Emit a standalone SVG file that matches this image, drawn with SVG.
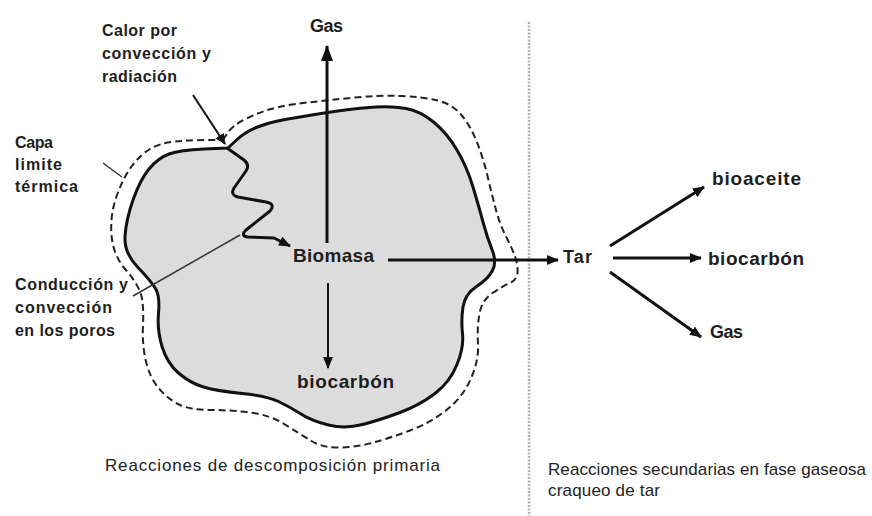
<svg xmlns="http://www.w3.org/2000/svg" width="872" height="516" viewBox="0 0 872 516">
<defs>
<style>
.lbl{font-family:"Liberation Sans",Arial,sans-serif;font-weight:bold;fill:#1e1e1e}
.sm{font-size:16px}
.big{font-size:19px}
.cap{font-family:"Liberation Sans",Arial,sans-serif;font-size:17px;fill:#222}
.conn{stroke:#111;fill:none}
.thin{stroke:#333;stroke-width:1.5;fill:none}
</style>
<marker id="ah" markerUnits="userSpaceOnUse" markerWidth="16" markerHeight="12" refX="15" refY="6" orient="auto">
<path d="M0,0 L16,6 L0,12 Z" fill="#111"/>
</marker>
<marker id="ahs" markerUnits="userSpaceOnUse" markerWidth="12" markerHeight="10" refX="11" refY="5" orient="auto">
<path d="M0,0 L12,5 L0,10 Z" fill="#111"/>
</marker>
<marker id="aht" markerUnits="userSpaceOnUse" markerWidth="11" markerHeight="10" refX="10" refY="5" orient="auto">
<path d="M0,0 L11,5 L0,10 Z" fill="#111"/>
</marker>
</defs>
<rect width="872" height="516" fill="#ffffff"/>

<g id="particle">
<path d="M228,148 L236.5,140 Q245,132 257.5,127 Q270,122 285,119.5 Q300,117 315,114.5 Q330,112 345,110 Q360,108 376,107 Q392,106 406,108.5 Q420,111 433.5,122 Q447,133 457,150 Q467,167 473,187 Q479,207 483,222 Q487,237 492,249.5 Q497,262 492.5,270.5 Q488,279 476.5,286.5 Q465,294 463,307 Q461,320 462.5,333.5 Q464,347 457,364.5 Q450,382 435,393.5 Q420,405 400,412.5 Q380,420 362.5,424.5 Q345,429 328.5,425 Q312,421 301,414 Q290,407 278.5,401.5 Q267,396 242,393.5 Q217,391 203.5,387 Q190,383 178.5,373 Q167,363 162,346.5 Q157,330 158.5,313.5 Q160,297 156,289.5 Q152,282 138,267.5 Q124,253 125,236.5 Q126,220 133,200 Q140,180 149,169 Q158,158 169,154 Q180,150 204,149 L228,148 Z" fill="#dcdcdc" stroke="#111" stroke-width="3" stroke-linejoin="round"/>
<path d="M223,140 L227.5,133 Q232,126 244.5,119.5 Q257,113 271,109 Q285,105 307.5,102.5 Q330,100 355,97.5 Q380,95 401.5,96 Q423,97 437.5,100.5 Q452,104 461,114.5 Q470,125 476.5,141 Q483,157 487.5,176 Q492,195 496,210 Q500,225 506,236.5 Q512,248 515,256.5 Q518,265 517.5,272.5 Q517,280 510,283 Q503,286 492.5,293 Q482,300 479.5,313.5 Q477,327 478,343.5 Q479,360 471,378.5 Q463,397 446.5,410 Q430,423 410,430.5 Q390,438 373.5,442.5 Q357,447 340,447.5 Q323,448 311.5,441 Q300,434 285,424.5 Q270,415 250,412.5 Q230,410 210,410 Q190,410 179,404.5 Q168,399 159,388.5 Q150,378 146,361.5 Q142,345 143,325 Q144,305 141,294.5 Q138,284 125.5,269.5 Q113,255 111.5,235 Q110,215 116.5,196.5 Q123,178 131.5,166.5 Q140,155 150,149 Q160,143 175,141.5 Q190,140 206.5,140 L223,140 Z" fill="none" stroke="#222" stroke-width="2" stroke-dasharray="7 4"/>
</g>

<g id="divider">
<line x1="529" y1="22" x2="529" y2="516" stroke="#b0b0b0" stroke-width="2.5" stroke-dasharray="2 1.5"/>
</g>

<g id="connectors">
<path class="conn" d="M227,148 L244,160 Q250,165 246,171 L234,188 Q230,195 238,197 L266,202 Q276,204 270,211 L246,230 Q240,236 248,237 L274,238 L290,246" stroke-width="3" stroke-linejoin="round" marker-end="url(#ahs)"/>
<line class="conn" x1="193" y1="95" x2="225" y2="144" stroke-width="2" marker-end="url(#aht)"/>
<line class="thin" x1="103" y1="163" x2="122" y2="177"/>
<line class="thin" x1="133" y1="296" x2="240" y2="235"/>
<line class="conn" x1="327" y1="243" x2="327" y2="46" stroke-width="3" marker-end="url(#ah)"/>
<line class="conn" x1="328" y1="283" x2="328" y2="368" stroke-width="2" marker-end="url(#ahs)"/>
<line class="conn" x1="388" y1="260" x2="558" y2="260" stroke-width="3" marker-end="url(#ahs)"/>
<line class="conn" x1="610" y1="246" x2="704" y2="187" stroke-width="3" marker-end="url(#ahs)"/>
<line class="conn" x1="613" y1="258" x2="701" y2="258" stroke-width="3" marker-end="url(#ahs)"/>
<line class="conn" x1="610" y1="272" x2="701" y2="337" stroke-width="3" marker-end="url(#ahs)"/>
</g>

<g id="label-calor">
<text class="lbl sm" x="102" y="36" textLength="75" lengthAdjust="spacing">Calor por</text>
<text class="lbl sm" x="102" y="59" textLength="109" lengthAdjust="spacing">convección y</text>
<text class="lbl sm" x="102" y="82" textLength="75" lengthAdjust="spacing">radiación</text>
</g>
<g id="label-capa">
<text class="lbl sm" x="15" y="148" textLength="38" lengthAdjust="spacing">Capa</text>
<text class="lbl sm" x="15" y="170" textLength="47" lengthAdjust="spacing">limite</text>
<text class="lbl sm" x="15" y="192" textLength="63" lengthAdjust="spacing">térmica</text>
</g>
<g id="label-conduccion">
<text class="lbl sm" x="15" y="290" textLength="113" lengthAdjust="spacing">Conducción y</text>
<text class="lbl sm" x="15" y="313" textLength="97" lengthAdjust="spacing">convección</text>
<text class="lbl sm" x="15" y="336" textLength="100" lengthAdjust="spacing">en los poros</text>
</g>
<g id="node-gas-top"><text class="lbl" style="font-size:18px" x="310" y="32" textLength="33" lengthAdjust="spacing">Gas</text></g>
<g id="node-biomasa"><text class="lbl big" x="293" y="262" textLength="81" lengthAdjust="spacing">Biomasa</text></g>
<g id="node-biocarbon-1"><text class="lbl big" x="297" y="388" textLength="97" lengthAdjust="spacing">biocarbón</text></g>
<g id="node-tar"><text class="lbl" style="font-size:18px" x="563" y="263" textLength="29" lengthAdjust="spacing">Tar</text></g>
<g id="node-bioaceite"><text class="lbl big" x="712" y="185" textLength="89" lengthAdjust="spacing">bioaceite</text></g>
<g id="node-biocarbon-2"><text class="lbl big" x="708" y="265" textLength="96" lengthAdjust="spacing">biocarbón</text></g>
<g id="node-gas-right"><text class="lbl" style="font-size:18px" x="710" y="338" textLength="33" lengthAdjust="spacing">Gas</text></g>

<g id="caption-primary">
<text class="cap" x="105" y="471" textLength="335" lengthAdjust="spacing">Reacciones de descomposición primaria</text>
</g>
<g id="caption-secondary">
<text class="cap" x="548" y="475" textLength="318" lengthAdjust="spacing">Reacciones secundarias en fase gaseosa</text>
<text class="cap" x="548" y="496" textLength="112" lengthAdjust="spacing">craqueo de tar</text>
</g>
</svg>
